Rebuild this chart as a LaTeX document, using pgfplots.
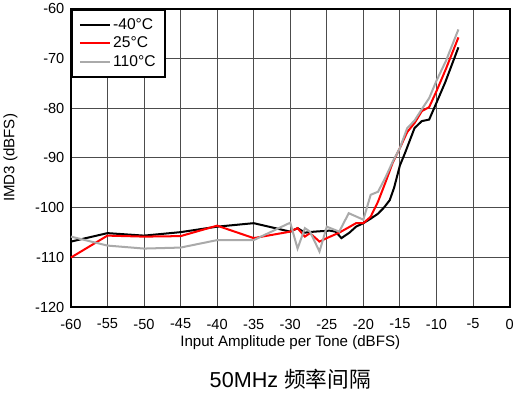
\documentclass[border=0pt]{standalone}
\usepackage{pgfplots}
\pgfplotsset{compat=1.18}
\usepackage{fontspec}
\setmainfont{Liberation Sans}
\newfontfamily\cjk{Noto Sans CJK SC}
\definecolor{gline}{RGB}{170,170,170}
\definecolor{rline}{RGB}{255,0,0}
\begin{document}
\begin{tikzpicture}
\begin{axis}[
  scale only axis,
  width=436pt, height=297pt,
  xmin=-60, xmax=0, ymin=-120, ymax=-60,
  xtick={-60,-55,...,0}, ytick={-120,-110,...,-60},
  grid=major,
  major grid style={draw=black!70, line width=1pt},
  axis line style={line width=2pt},
  tick style={draw=none},
  /pgf/number format/assume math mode=true,
  ticklabel style={font=\fontsize{14.5}{16}\selectfont},
  xticklabel style={yshift=-8pt},
  yticklabel style={xshift=-3pt},
  xlabel={Input Amplitude per Tone (dBFS)},
  ylabel={IMD3 (dBFS)},
  label style={font=\fontsize{15}{17}\selectfont},
  xlabel style={at={(axis description cs:0.5,0)}, anchor=north, yshift=-25pt},
  ylabel style={at={(axis description cs:-0.138,0.5)}, anchor=center},
  legend cell align=left,
  legend style={draw=black, line width=2pt, font=\fontsize{15.5}{17}\selectfont, inner xsep=7pt, inner ysep=7pt, row sep=2pt, at={(0,1)}, anchor=north west, legend image code/.code={\draw[line width=2pt,#1] (0pt,0pt) -- (30pt,0pt);}},
  clip=false,
]
\addplot[black, line width=2pt] coordinates {
(-60,-106.8) (-55,-105.1) (-50,-105.6) (-45,-104.9) (-40,-103.8) (-35,-103.1)
(-30,-104.8) (-29,-104.1) (-28,-105) (-26.7,-104.8) (-24.6,-104.6) (-23.8,-104.8)
(-23,-106.1) (-21.9,-105) (-21,-103.8) (-20,-103.1) (-19,-102.2) (-18,-101.2)
(-17.2,-100) (-16.4,-98.5) (-15.8,-96) (-15,-91.5) (-14.3,-89) (-13,-84)
(-12,-82.6) (-11,-82.3) (-10.2,-79.6) (-8.8,-74.8) (-7,-67.8)
};
\addlegendentry{-40°C}
\addplot[rline, line width=2pt] coordinates {
(-60,-110) (-55,-105.6) (-50,-105.8) (-45,-105.7) (-40,-103.6) (-35,-106.1)
(-30,-104.8) (-29,-104.1) (-28,-105.8) (-27.3,-105.1) (-26,-106.8) (-25,-106.1)
(-23.3,-105) (-22.2,-104.1) (-21,-103.1) (-20,-103.1) (-19,-101.8) (-18,-98.8)
(-17,-95) (-16,-91) (-15,-88) (-14,-84.8) (-13,-83) (-12,-80.6) (-11,-79.8)
(-10,-76.6) (-8.7,-72.1) (-7,-65.8)
};
\addlegendentry{25°C}
\addplot[gline, line width=2pt] coordinates {
(-60,-105.8) (-55,-107.6) (-50,-108.2) (-45,-108) (-40,-106.5) (-35,-106.5)
(-30,-103) (-29,-108.2) (-28,-104.1) (-27.3,-104.8) (-26,-108.8) (-25,-103.8)
(-23.3,-104.8) (-22,-101.1) (-20,-102.4) (-19,-97.4) (-18,-96.8) (-17,-94)
(-16,-90.8) (-15,-88) (-14,-84) (-13,-82.5) (-12,-80.2) (-11,-78) (-10,-74.5)
(-8.7,-70.5) (-7,-64.2)
};
\addlegendentry{110°C}
\node[anchor=center] at (rel axis cs:0.5,0) [yshift=-71pt] {\fontsize{21.5}{24}\selectfont 50MHz {\cjk 频率间隔}};
\end{axis}
\end{tikzpicture}
\end{document}
